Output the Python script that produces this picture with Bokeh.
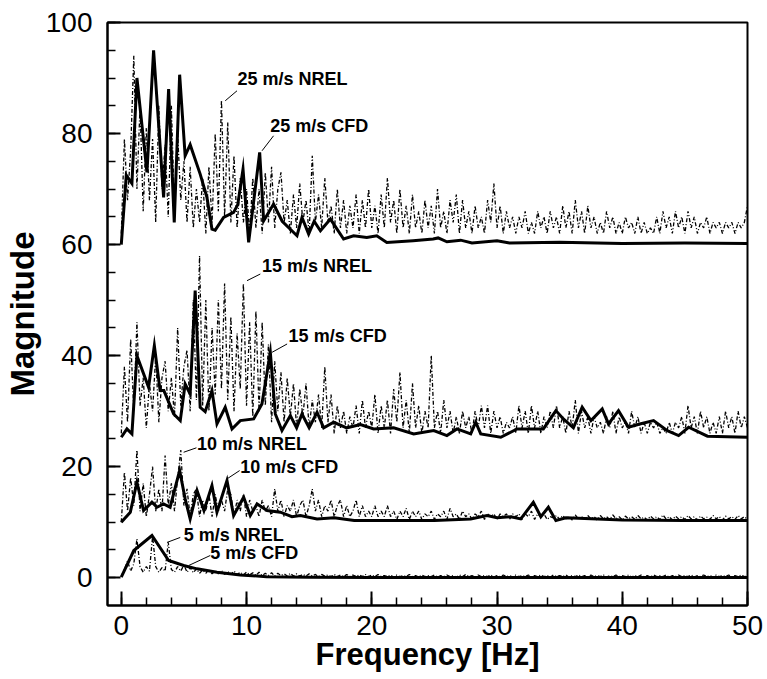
from bokeh.plotting import figure
from bokeh.models import Range1d, FixedTicker
from bokeh.core.properties import value
from bokeh.embed import file_html
from bokeh.resources import INLINE

# ---------------- data ----------------
nrel_freq = [i * 0.25 for i in range(201)]

nrel_25 = [
    62, 79, 68, 77, 94, 70, 85, 66, 81, 68, 79, 64, 85, 70, 78, 65, 85, 66, 80, 68,
    75, 64, 74, 63, 70, 64, 72, 62, 74, 64, 80, 66, 86, 65, 82, 64, 76, 63, 72, 64,
    70, 62, 72, 63, 70, 62, 73, 64, 74, 63, 70, 73, 64, 68, 62, 69, 63, 71, 64, 68,
    62, 76, 64, 69, 63, 72, 64, 67, 62, 70, 63, 68, 62, 67, 63, 69, 62, 68, 63, 70,
    63, 67, 62, 69, 63, 72, 64, 68, 62, 70, 63, 67, 62, 69, 63, 66, 62, 68, 63, 67,
    62, 70, 63, 66, 62, 68, 64, 69, 62, 68, 63, 66, 62, 67, 63, 65, 62, 68, 64, 71,
    63, 67, 62, 66, 63, 65, 62, 65, 63, 66, 62, 64, 62, 66, 63, 65, 62, 66, 63, 65,
    62, 67, 63, 66, 62, 68, 63, 66, 62, 67, 63, 65, 62, 64, 62, 66, 63, 65, 62, 64,
    62, 65, 63, 64, 62, 65, 62, 64, 62, 63, 62, 65, 62, 66, 63, 65, 62, 66, 63, 65,
    62, 66, 63, 65, 62, 64, 63, 65, 62, 64, 63, 64, 62, 64, 63, 64, 62, 64, 63, 64,
    67]

nrel_15 = [
    26, 38, 28, 43, 30, 46, 31, 36, 27, 35, 30, 40, 28, 36, 39, 30, 36, 29, 45, 31,
    38, 41, 30, 50, 32, 58, 31, 50, 30, 45, 33, 50, 34, 53, 32, 47, 30, 44, 34, 53,
    31, 46, 29, 48, 30, 46, 31, 42, 28, 39, 30, 37, 28, 36, 29, 35, 27, 34, 29, 35,
    27, 32, 28, 33, 27, 38, 28, 33, 26, 31, 27, 30, 26, 29, 27, 31, 26, 32, 27, 30,
    27, 33, 26, 31, 27, 32, 26, 34, 28, 37, 27, 32, 26, 35, 27, 31, 26, 30, 27, 40,
    27, 30, 26, 32, 27, 30, 26, 29, 26, 30, 27, 29, 26, 30, 27, 31, 27, 31, 26, 30,
    27, 29, 26, 28, 27, 29, 26, 31, 27, 30, 26, 31, 27, 30, 26, 29, 27, 30, 27, 31,
    27, 29, 26, 30, 27, 32, 26, 30, 27, 29, 26, 29, 27, 28, 26, 29, 27, 30, 26, 29,
    27, 28, 26, 30, 27, 29, 26, 28, 26, 28, 27, 28, 26, 27, 26, 28, 26, 28, 27, 29,
    26, 31, 27, 29, 26, 30, 27, 29, 26, 28, 26, 29, 26, 30, 27, 29, 26, 30, 27, 29,
    27]

nrel_10 = [
    10, 19, 12, 18, 13, 23, 12, 17, 11, 15, 20, 12, 16, 12, 22, 13, 17, 12, 18, 23,
    13, 16, 11, 15, 16, 11, 14, 12, 15, 11, 15, 12, 14, 12, 16, 15, 11, 14, 12, 15,
    11, 14, 12, 13, 11, 14, 12, 13, 11, 16, 12, 14, 11, 13, 12, 14, 11, 13, 14, 11,
    13, 16, 12, 14, 11, 13, 12, 14, 11, 13, 14, 11, 13, 11, 12, 14, 11, 13, 11, 12,
    11, 13, 11, 12, 11, 13, 11, 12, 10.5, 12, 11, 12.5, 10.5, 12, 11, 12, 10.5, 11.5, 11, 12,
    10.5, 11.5, 11, 12, 10.5, 12.5, 11, 11.5, 10.5, 12, 11, 11.5, 10.5, 11.5, 11, 12, 10.5, 11.5, 11, 11.5,
    10.5, 11.5, 11, 11.5, 10.5, 11.5, 11, 11.5, 10.5, 11.5, 11, 12, 10.5, 11.5, 11, 11.5, 10.5, 11, 10.8, 11.2,
    10.5, 11.2, 10.6, 11.0, 10.4, 11.3, 10.6, 11.0, 10.5, 11.2, 10.6, 11.0, 10.4, 11.2, 10.6, 11.0, 10.5, 11.3, 10.6, 11.0,
    10.4, 11.1, 10.6, 11.0, 10.5, 11.2, 10.6, 10.9, 10.4, 11.1, 10.6, 11.0, 10.5, 11.3, 10.6, 11.0, 10.4, 11.1, 10.6, 11.0,
    10.5, 11.2, 10.6, 11.0, 10.4, 11.1, 10.6, 10.9, 10.5, 11.2, 10.6, 11.0, 10.4, 11.1, 10.6, 11.0, 10.5, 11.2, 10.6, 11.0,
    10.5]

nrel_5 = [
    0.3, 1.5, 3.0, 1.2, 2.5, 7.0, 2.0, 1.0, 2.0, 1.2, 7.5, 2.0, 1.0, 1.8, 1.2, 6.4, 1.5, 1.0, 2.0, 1.2,
    2.3, 1.0, 1.8, 0.9, 1.6, 0.8, 1.4, 0.8, 1.5, 0.7, 1.2, 0.7, 1.3, 0.6, 1.1, 0.6, 1.2, 0.6, 1.0, 0.5,
    1.0, 0.5, 0.9, 0.4, 1.0, 0.4, 0.8, 0.4, 0.9, 0.3, 0.8, 0.4, 0.7, 0.3, 0.8, 0.3, 0.7, 0.3, 0.6, 0.3,
    0.7, 0.3, 0.6, 0.2, 0.6, 0.3, 0.5, 0.2, 0.6, 0.2, 0.5, 0.2, 0.6, 0.2, 0.5, 0.2, 0.5, 0.2, 0.6, 0.2,
    0.5, 0.2, 0.6, 0.2, 0.4, 0.2, 0.5, 0.1, 0.5, 0.2, 0.4, 0.2, 0.6, 0.2, 0.4, 0.1, 0.5, 0.2, 0.4, 0.2,
    0.5, 0.1, 0.4, 0.2, 0.5, 0.2, 0.4, 0.1, 0.5, 0.2, 0.6, 0.2, 0.4, 0.1, 0.5, 0.2, 0.4, 0.2, 0.5, 0.1,
    0.4, 0.2, 0.5, 0.2, 0.4, 0.1, 0.5, 0.2, 0.4, 0.2, 0.5, 0.1, 0.4, 0.2, 0.5, 0.2, 0.4, 0.1, 0.5, 0.2,
    0.4, 0.2, 0.5, 0.1, 0.4, 0.2, 0.5, 0.2, 0.4, 0.1, 0.5, 0.2, 0.4, 0.2, 0.5, 0.1, 0.4, 0.2, 0.5, 0.2,
    0.4, 0.2, 0.5, 0.1, 0.4, 0.2, 0.5, 0.2, 0.4, 0.1, 0.5, 0.2, 0.4, 0.2, 0.5, 0.1, 0.4, 0.2, 0.5, 0.2,
    0.4, 0.2, 0.5, 0.1, 0.4, 0.2, 0.5, 0.2, 0.4, 0.1, 0.5, 0.2, 0.4, 0.2, 0.5, 0.1, 0.4, 0.2, 0.5, 0.2,
    0.3]

cfd25_x = [0, 0.4, 0.85, 1.25, 2.05, 2.58, 3.38, 3.78, 4.23, 4.66, 5.1, 5.5, 6.3, 6.84,
           7.24, 7.5, 8.17, 8.97, 9.3, 9.72, 10.17, 11.05, 11.37, 12.16, 12.85, 14.03,
           14.43, 14.96, 15.4, 15.9, 16.7, 17.75, 18.55, 19.6, 20.4, 21.2, 23.3, 24.9,
           25.3, 26.0, 27.1, 28.0, 30.0, 31.0, 35.0, 40.0, 45.0, 50.0]
cfd25_y = [60, 72.5, 71, 90, 73, 95, 68.5, 88, 64, 90.6, 76, 78, 72.7, 68.5,
           62.8, 62.6, 64.9, 65.8, 67.2, 73.6, 60.4, 76.6, 64.3, 67.3, 64.2, 61.6,
           64.9, 61.9, 64.2, 62.5, 64.6, 61, 61.6, 61.3, 61.6, 60.4, 60.7, 61,
           61.2, 60.5, 60.8, 60.3, 60.7, 60.3, 60.4, 60.2, 60.3, 60.2]

cfd15_x = [0, 0.45, 0.85, 1.25, 2.18, 2.64, 3.1, 3.4, 4.18, 4.71, 5.1, 5.5, 5.9, 6.3,
           6.7, 7.24, 7.64, 8.3, 8.84, 9.5, 10.57, 11.23, 11.9, 12.3, 12.83, 13.5,
           14.0, 14.43, 15.0, 15.63, 16.16, 16.96, 18.0, 19.1, 20.15, 21.75, 23.35,
           23.9, 24.95, 26.0, 26.8, 27.9, 28.3, 28.7, 30.3, 31.6, 33.7, 34.7, 35.3,
           36.1, 36.8, 37.5, 38.4, 38.9, 39.7, 40.5, 41.4, 42.5, 43.6, 44.5, 45.3,
           46.8, 50.0]
cfd15_y = [25.3, 26.8, 25.9, 40, 34.3, 41.8, 33.7, 33.7, 29.5, 28.3, 34.9, 33.1, 51.7, 30.7,
           29.9, 33.7, 27.7, 30.7, 26.8, 28.3, 28.6, 31.3, 40.6, 29.5, 26.5, 29.2,
           27, 29.5, 27, 29.8, 27, 28, 27, 27.6, 26.8, 27, 25.9,
           26.1, 26.5, 25.6, 26.8, 25.9, 28, 25.9, 25.3, 26.8, 26.8, 30.1, 28.6,
           27, 30.7, 28.3, 30.4, 27.7, 30.1, 27.1, 27.7, 28.3, 26.5, 25.6, 27.1,
           25.5, 25.3]

cfd10_x = [0, 0.72, 1.25, 1.78, 2.45, 2.85, 3.38, 3.9, 4.66, 5.1, 5.5, 6.05, 6.6, 7.24,
           7.64, 8.44, 8.97, 9.77, 10.3, 10.84, 11.64, 12.7, 13.63, 14.3, 15.63, 17.0,
           18.6, 25.0, 27.9, 29.2, 30.0, 31.1, 31.9, 32.9, 33.5, 34.1, 34.7, 35.5,
           40.0, 45.0, 50.0]
cfd10_y = [10, 11.8, 17.2, 12.1, 13.6, 12.7, 13.3, 12.7, 19.3, 14.2, 10.6, 15.7, 12.1, 16.6,
           11.8, 17.5, 11.2, 14.5, 11.2, 13.3, 12.1, 11.8, 11, 11.2, 10.6, 10.8,
           10.3, 10.3, 10.6, 11.2, 10.8, 11, 10.6, 13.6, 11, 12.7, 10.3, 10.8,
           10.4, 10.3, 10.3]

cfd5_x = [0, 1.0, 2.45, 3.78, 4.98, 6.05, 7.64, 9.5, 11.6, 15.0, 20.0, 30.0, 40.0, 50.0]
cfd5_y = [0.1, 4.9, 7.6, 3.1, 2.2, 1.6, 1.0, 0.5, 0.2, 0.1, 0.05, 0.05, 0.05, 0.05]

ann_text = ["25 m/s NREL", "25 m/s CFD", "15 m/s NREL", "15 m/s CFD",
            "10 m/s NREL", "10 m/s CFD", "5 m/s NREL", "5 m/s CFD"]
ann_x = [9.27, 11.9, 11.24, 13.36, 6.05, 9.5, 4.98, 7.1]
ann_y = [89.9, 81.4, 56.2, 43.6, 24.1, 19.9, 7.7, 4.4]
lead_x0 = [9.24, 12.16, 11.1, 13.24, 6.0, 9.45, 4.71, 7.1]
lead_y0 = [87.7, 79.6, 54.7, 42.1, 23.4, 19.3, 7.26, 4.0]
lead_x1 = [8.3, 11.24, 10.04, 12.04, 4.98, 8.44, 3.65, 5.38]
lead_y1 = [85.9, 76.9, 53.5, 40.6, 22.6, 17.8, 6.36, 2.2]

x_major = [0, 10, 20, 30, 40, 50]
x_minor = list(range(0, 51, 2))
y_major = [0, 20, 40, 60, 80, 100]
y_minor = list(range(0, 101, 5))

# ---------------- figure ----------------
p = figure(width=767, height=679,
           x_range=Range1d(-1.1, 50), y_range=Range1d(-5, 100),
           output_backend="svg", toolbar_location=None,
           min_border_left=107, min_border_right=20,
           min_border_top=22, min_border_bottom=74)
p.grid.visible = False
p.background_fill_color = "white"
p.border_fill_color = "white"
p.outline_line_color = "black"
p.outline_line_width = 2

p.xaxis.ticker = FixedTicker(ticks=x_major, minor_ticks=x_minor)
p.yaxis.ticker = FixedTicker(ticks=y_major, minor_ticks=y_minor)

for ax in (p.xaxis[0], p.yaxis[0]):
    ax.axis_line_width = 2
    ax.axis_line_color = "black"
    ax.major_tick_out = 0
    ax.minor_tick_out = 0
    ax.major_tick_line_width = 2
    ax.minor_tick_line_width = 1.5
    ax.major_tick_line_color = "black"
    ax.minor_tick_line_color = "black"
    ax.major_label_text_font = "Liberation Sans"
    ax.major_label_text_font_size = "28px"
    ax.major_label_text_color = "black"
    ax.axis_label_text_font = "Liberation Sans"
    ax.axis_label_text_font_style = "bold"
    ax.axis_label_text_color = "black"

p.xaxis.axis_label = "Frequency [Hz]"
p.yaxis.axis_label = "Magnitude"
p.xaxis.axis_label_text_font_size = "31px"
p.yaxis.axis_label_text_font_size = "33px"
p.xaxis.major_tick_in = 14
p.xaxis.minor_tick_in = 8
p.yaxis.major_tick_in = 13
p.yaxis.minor_tick_in = 8
p.xaxis.major_label_standoff = 10
p.xaxis.axis_label_standoff = -1
p.yaxis.major_label_standoff = 15
p.yaxis.axis_label_standoff = 2

nrel_style = dict(line_color="black", line_width=1.3, line_dash="4 2 1 2")
for series in (nrel_25, nrel_15, nrel_10, nrel_5):
    p.line(nrel_freq, series, **nrel_style)

cfd_style = dict(line_color="black", line_width=3, line_join="miter")
p.line(cfd25_x, cfd25_y, **cfd_style)
p.line(cfd15_x, cfd15_y, **cfd_style)
p.line(cfd10_x, cfd10_y, **cfd_style)
p.line(cfd5_x, cfd5_y, **cfd_style)

p.segment(x0=lead_x0, y0=lead_y0, x1=lead_x1, y1=lead_y1,
          line_color="black", line_width=1)
p.text(x=ann_x, y=ann_y, text=ann_text,
       text_font=value("Liberation Sans"), text_font_style="bold",
       text_font_size="18px", text_color="black",
       text_align="left", text_baseline="middle")

open("out.html", "w").write(file_html(p, INLINE))
